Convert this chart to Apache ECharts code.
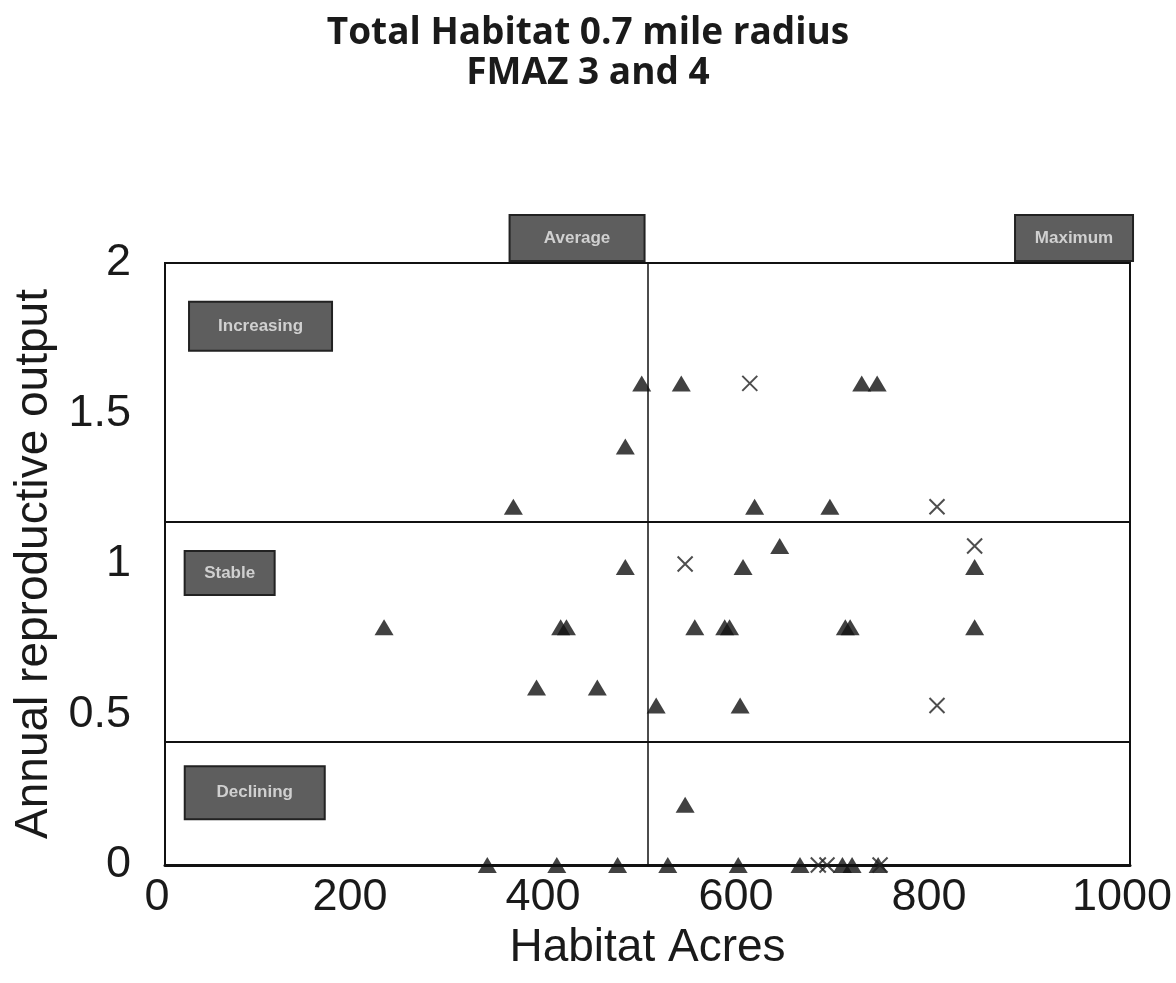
<!DOCTYPE html>
<html>
<head>
<meta charset="utf-8">
<script src="https://cdn.jsdelivr.net/npm/echarts@6/dist/echarts.min.js"></script>
<style>html,body{margin:0;padding:0;background:#fff;}#c{width:1176px;height:983px;}</style>
</head>
<body>
<div id="c"></div>
<script>
const titleLines = ["Total Habitat 0.7 mile radius", "FMAZ 3 and 4"];
const xTicks = [0, 200, 400, 600, 800, 1000];
const yTicks = [0, 0.5, 1, 1.5, 2];
const triangleData = [
  [494, 1.6], [535, 1.6], [722, 1.6], [738, 1.6],
  [477, 1.39],
  [361, 1.19], [611, 1.19], [689, 1.19],
  [637, 1.06],
  [477, 0.99], [599, 0.99], [839, 0.99],
  [227, 0.79], [410, 0.79], [416, 0.79], [549, 0.79], [580, 0.79], [585, 0.79],
  [705, 0.79], [710, 0.79], [839, 0.79],
  [385, 0.59], [448, 0.59],
  [509, 0.53], [596, 0.53],
  [539, 0.2],
  [334, 0], [406, 0], [469, 0], [521, 0], [594, 0], [658, 0], [702, 0], [712, 0], [739, 0]
];
const crossData = [
  [606, 1.6], [800, 1.19], [839, 1.06], [539, 1.0], [800, 0.53],
  [677, 0], [686, 0], [741, 0]
];
const vLineX = [500];
const hLinesY = [1.14, 0.41];
const boxLabels = ["Increasing", "Stable", "Declining", "Average", "Maximum"];
const boxCoords = [[99, 1.79], [67, 0.97], [93, 0.24], [427, 2.083], [942, 2.083]];
const boxSizes = [[143, 49], [90, 44], [140, 53], [135, 46], [118, 46]];

const chart = echarts.init(document.getElementById('c'));
chart.setOption({
  animation: false,
  backgroundColor: '#fff',
  title: {
    text: titleLines.join('\n'), left: 'center', top: 8,
    textStyle: {fontFamily: 'Open Sans', fontWeight: 'bold', fontSize: 37, lineHeight: 40, color: '#1a1a1a'}
  },
  grid: {left: 165, right: 46, top: 263, bottom: 118, outerBoundsMode: 'none', containLabel: false,
    show: true, borderColor: '#111', borderWidth: 2, backgroundColor: 'transparent'},
  xAxis: {
    type: 'value', min: 0, max: 1000, interval: 200,
    name: 'Habitat Acres', nameLocation: 'middle', nameGap: 56,
    nameTextStyle: {fontFamily: 'Liberation Sans', fontSize: 46, color: '#1a1a1a'},
    axisLine: {show: true, lineStyle: {color: '#111', width: 3}},
    axisTick: {show: false}, splitLine: {show: false},
    axisLabel: {fontFamily: 'Liberation Sans', fontSize: 45, color: '#1a1a1a', margin: 10,
      padding: [0, 16, 0, 0],
      formatter: v => xTicks.includes(v) ? String(v) : ''}
  },
  yAxis: {
    type: 'value', min: 0, max: 2, interval: 0.5,
    name: 'Annual reproductive output', nameLocation: 'middle', nameGap: 106,
    nameTextStyle: {fontFamily: 'Liberation Sans', fontSize: 46, color: '#1a1a1a'},
    axisLine: {show: true, lineStyle: {color: '#111', width: 2}},
    axisTick: {show: false}, splitLine: {show: false},
    axisLabel: {fontFamily: 'Liberation Sans', fontSize: 45, color: '#1a1a1a', margin: 34,
      formatter: v => yTicks.includes(v) ? String(v) : ''}
  },
  series: [
    {
      type: 'scatter', name: 'tri', data: triangleData,
      symbol: 'triangle', symbolSize: [19, 16],
      itemStyle: {color: '#111'},
      z: 5,
      markLine: {
        silent: true, symbol: 'none', label: {show: false},
        lineStyle: {color: '#111', type: 'solid', width: 2},
        data: [
          ...hLinesY.map(y => ({yAxis: y})),
          ...vLineX.map(x => ({xAxis: x, lineStyle: {width: 1.5}}))
        ]
      }
    },
    {
      type: 'scatter', name: 'cross', data: crossData,
      symbol: 'path://M0,0L10,10M10,0L0,10', symbolSize: 15,
      itemStyle: {color: 'transparent', borderColor: '#222', borderWidth: 2},
      z: 5
    }
  ]
});
const boxGraphics = boxLabels.map((t, i) => {
  const p = chart.convertToPixel({gridIndex: 0}, boxCoords[i]);
  const [w, h] = boxSizes[i];
  return {
    type: 'group', x: p[0] - w / 2, y: p[1] - h / 2, z: 10,
    children: [
      {type: 'rect', shape: {x: 0, y: 0, width: w, height: h},
        style: {fill: '#5e5e5e', stroke: '#222', lineWidth: 2}},
      {type: 'text', x: w / 2, y: h / 2,
        style: {text: t, fill: '#d0d0d0', font: 'bold 17px "Liberation Sans"', align: 'center', verticalAlign: 'middle'}}
    ]
  };
});
chart.setOption({graphic: boxGraphics});
</script>
</body>
</html>
